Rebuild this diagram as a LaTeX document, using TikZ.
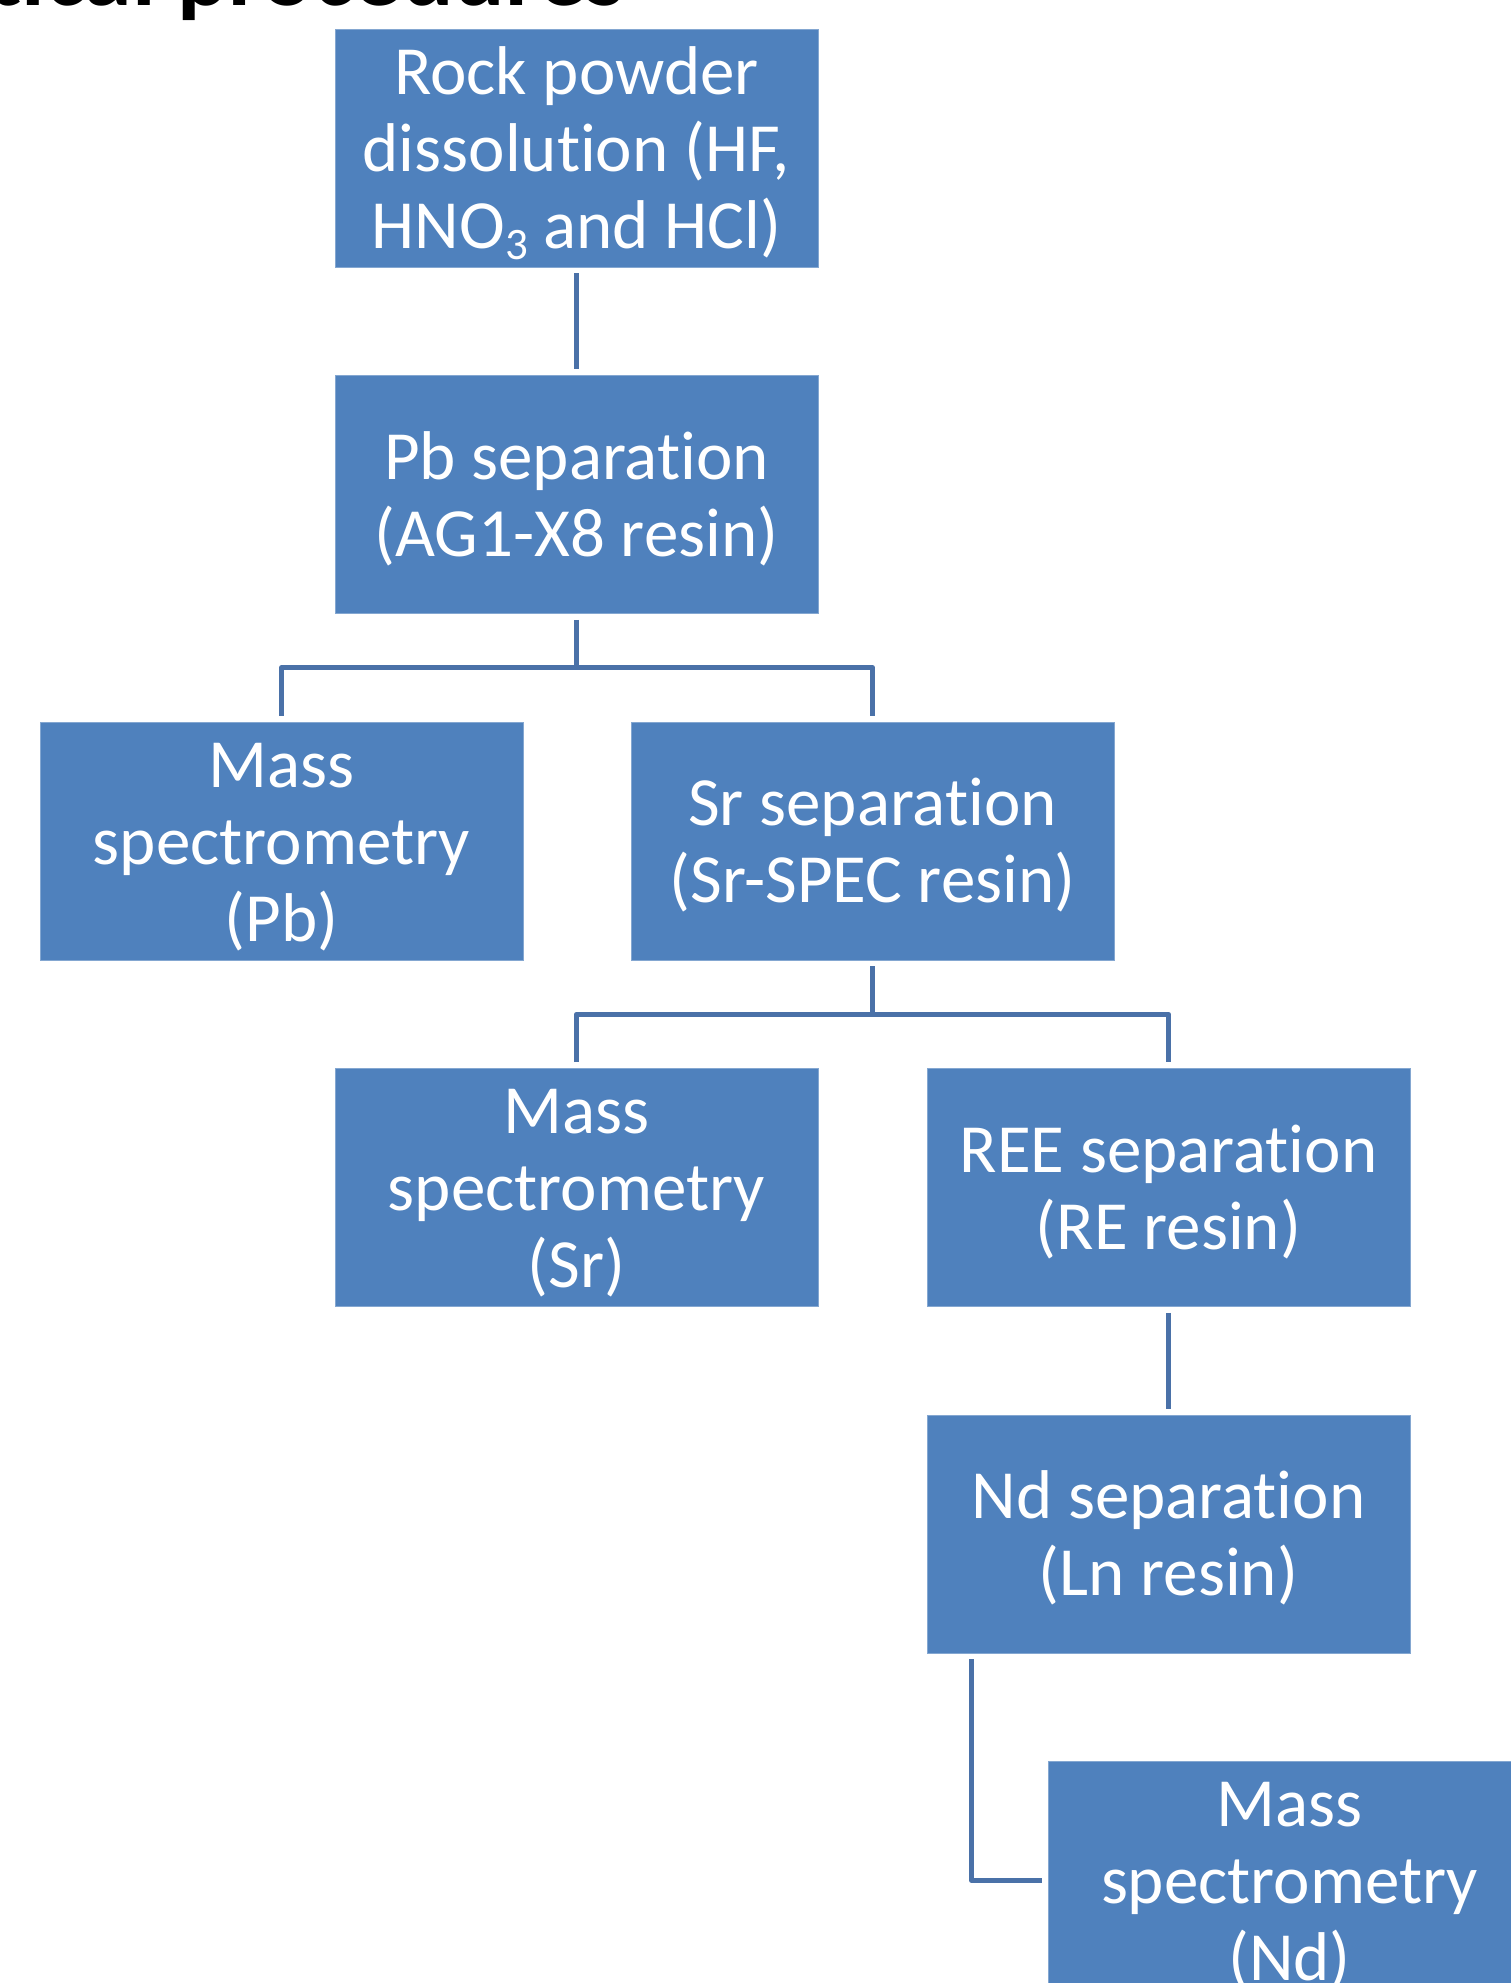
\documentclass[tikz,border=0pt]{standalone}
\usepackage{fontspec}
\setmainfont{Carlito}[Ligatures={NoCommon,NoContextual}]
\usetikzlibrary{calc}
\definecolor{boxblue}{HTML}{4F81BD}
\definecolor{lineblue}{HTML}{4A71A8}
\newcommand\boxlines[1]{\raisebox{-4pt}[\height][\depth]{\begin{tabular}{@{}c@{}}#1\end{tabular}}}
\tikzset{
  stepbox/.style={rectangle, fill=boxblue, draw=boxblue!70!white, line width=0.4pt,
    minimum width=241.5pt, minimum height=119pt, inner sep=0pt,
    text=white, font=\fontsize{34.5}{38.5}\selectfont},
  conn/.style={draw=lineblue, line width=2.5pt, line join=round},
  titletext/.style={inner sep=0pt, text=black, font=\fontsize{48}{56}\selectfont\bfseries}
}
\begin{document}
\begin{tikzpicture}[x=0.5pt,y=-0.5pt]
\useasboundingbox (0,0) rectangle (1511,1983);
\clip (0,0) rectangle (1511,1983);
\fill[white] (0,0) rectangle (1511,1983);

\node[titletext, anchor=base east] (title) at (625,5) {tical procedures};

\node[stepbox] (A) at (576.5,148) {\boxlines{Rock powder\\dissolution (HF,\\HNO\raisebox{-0.16em}[0pt][0pt]{\fontsize{22.5}{22.5}\selectfont 3} and HCl)}};
\node[stepbox] (B) at (576.5,494.5) {\boxlines{Pb separation\\(AG1-X8 resin)}};
\node[stepbox] (C) at (281.5,841) {\boxlines{Mass\\spectrometry\\(Pb)}};
\node[stepbox] (D) at (872.5,841) {\boxlines{Sr separation\\(Sr-SPEC resin)}};
\node[stepbox] (E) at (576.5,1187.5) {\boxlines{Mass\\spectrometry\\(Sr)}};
\node[stepbox] (F) at (1168.5,1187.5) {\boxlines{REE separation\\(RE resin)}};
\node[stepbox] (G) at (1168.5,1534) {\boxlines{Nd separation\\(Ln resin)}};
\node[stepbox] (H) at (1289.5,1880.5) {\boxlines{Mass\\spectrometry\\(Nd)}};

% A -> B
\draw[conn] ([yshift=-3pt]A.south) -- ([yshift=3pt]B.north);

% B -> C, D
\coordinate (bm) at ($(B.south)!0.5!(B.south |- C.north)$);
\draw[conn] ([yshift=-3pt]B.south) -- (bm);
\draw[conn] ([yshift=3pt]C.north) |- (bm) -| ([yshift=3pt]D.north);

% D -> E, F
\coordinate (dm) at ($(D.south)!0.5!(D.south |- E.north)$);
\draw[conn] ([yshift=-3pt]D.south) -- (dm);
\draw[conn] ([yshift=3pt]E.north) |- (dm) -| ([yshift=3pt]F.north);

% F -> G
\draw[conn] ([yshift=-3pt]F.south) -- ([yshift=3pt]G.north);

% G -> H
\draw[conn] ([xshift=22.5pt,yshift=-3pt]G.south west) |- ([xshift=-3pt]H.west);
\end{tikzpicture}
\end{document}
